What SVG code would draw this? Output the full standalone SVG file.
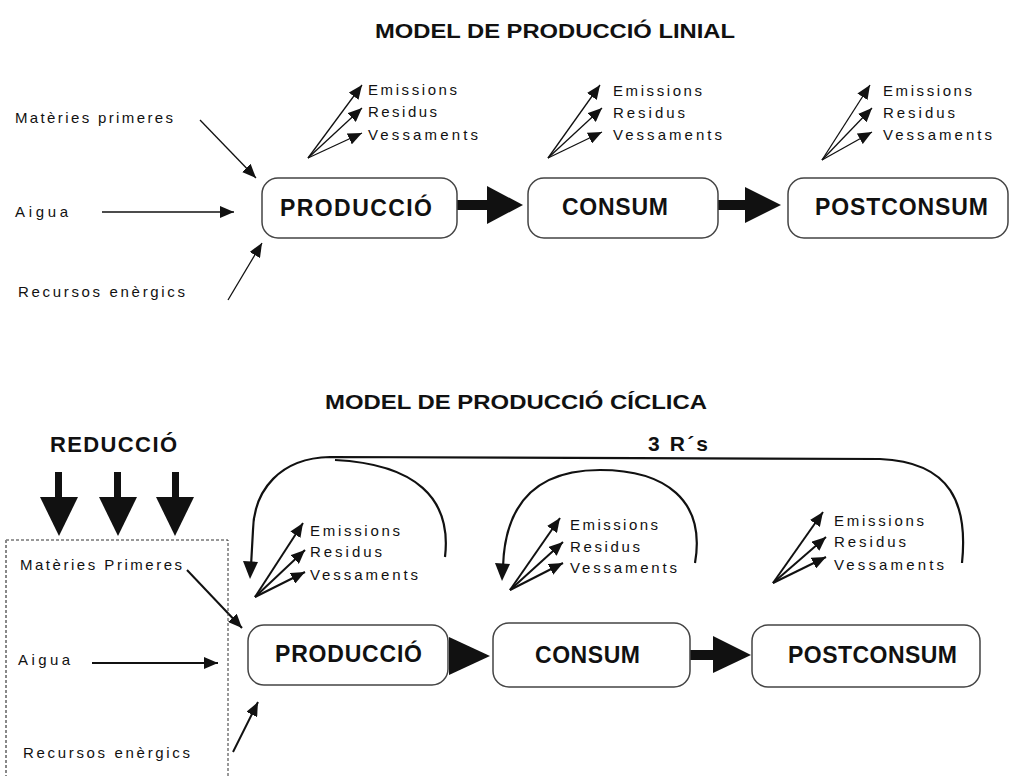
<svg xmlns="http://www.w3.org/2000/svg" width="1010" height="776" viewBox="0 0 1010 776">
<defs>
<style>
.t{font-family:"Liberation Sans",Arial,sans-serif;font-size:15px;fill:#111}
.b{font-family:"Liberation Sans",Arial,sans-serif;font-weight:bold;fill:#111}
.box{fill:#fff;stroke:#444;stroke-width:1.5}
.ln{fill:none;stroke:#111;stroke-width:1.3}
.ln2{fill:none;stroke:#111;stroke-width:2}
.cv{fill:none;stroke:#111;stroke-width:2.2}
.big{fill:#111;stroke:none}
</style>
<marker id="ah" markerUnits="userSpaceOnUse" viewBox="0 0 14 12" refX="14" refY="6" markerWidth="14" markerHeight="12" orient="auto">
<path d="M0,0 L14,6 L0,12 Z" fill="#111"/>
</marker>
<marker id="ah2" markerUnits="userSpaceOnUse" viewBox="0 0 14 12" refX="14" refY="6" markerWidth="14" markerHeight="12" orient="auto">
<path d="M0,0 L14,6 L0,12 Z" fill="#111"/>
</marker>
</defs>
<rect width="1010" height="776" fill="#fff"/>

<text class="b" x="375" y="38" font-size="21" textLength="360" lengthAdjust="spacingAndGlyphs">MODEL DE PRODUCCIÓ LINIAL</text>
<text class="b" x="325" y="409" font-size="21" textLength="382" lengthAdjust="spacingAndGlyphs">MODEL DE PRODUCCIÓ CÍCLICA</text>

<g id="connectors">
<!-- top inputs -->
<line class="ln" x1="200" y1="120" x2="256" y2="178" marker-end="url(#ah)"/>
<line class="ln" x1="102" y1="212" x2="234" y2="212" marker-end="url(#ah)"/>
<line class="ln" x1="228" y1="300" x2="262" y2="243" marker-end="url(#ah)"/>
<!-- top emissions -->
<line class="ln" x1="308" y1="158" x2="362" y2="85" marker-end="url(#ah)"/>
<line class="ln" x1="308" y1="158" x2="362" y2="108" marker-end="url(#ah)"/>
<line class="ln" x1="308" y1="158" x2="362" y2="133" marker-end="url(#ah)"/>
<line class="ln" x1="548" y1="158" x2="600" y2="85" marker-end="url(#ah)"/>
<line class="ln" x1="548" y1="158" x2="602" y2="108" marker-end="url(#ah)"/>
<line class="ln" x1="548" y1="158" x2="602" y2="132" marker-end="url(#ah)"/>
<line class="ln" x1="822" y1="160" x2="870" y2="85" marker-end="url(#ah)"/>
<line class="ln" x1="822" y1="160" x2="872" y2="108" marker-end="url(#ah)"/>
<line class="ln" x1="822" y1="160" x2="872" y2="132" marker-end="url(#ah)"/>
<!-- top flow arrows -->
<rect class="big" x="457" y="200" width="32" height="10"/>
<polygon class="big" points="487,186 523,205 487,224"/>
<rect class="big" x="718" y="200" width="29" height="10"/>
<polygon class="big" points="745,187 781,205 745,223"/>

<!-- reduction arrows -->
<rect class="big" x="55" y="472" width="7" height="27"/>
<polygon class="big" points="40,497 78,497 59,536"/>
<rect class="big" x="114" y="472" width="7" height="27"/>
<polygon class="big" points="99,497 137,497 118,536"/>
<rect class="big" x="172" y="472" width="7" height="27"/>
<polygon class="big" points="156,497 194,497 175,536"/>

<!-- bottom inputs -->
<line class="ln2" x1="187" y1="570" x2="242" y2="628" marker-end="url(#ah2)"/>
<line class="ln2" x1="92" y1="663" x2="218" y2="663" marker-end="url(#ah2)"/>
<line class="ln2" x1="233" y1="752" x2="258" y2="702" marker-end="url(#ah2)"/>
<!-- bottom emissions -->
<line class="ln2" x1="255" y1="597" x2="303" y2="523" marker-end="url(#ah2)"/>
<line class="ln2" x1="255" y1="597" x2="305" y2="550" marker-end="url(#ah2)"/>
<line class="ln2" x1="255" y1="597" x2="305" y2="572" marker-end="url(#ah2)"/>
<line class="ln2" x1="510" y1="590" x2="560" y2="518" marker-end="url(#ah2)"/>
<line class="ln2" x1="510" y1="590" x2="563" y2="542" marker-end="url(#ah2)"/>
<line class="ln2" x1="510" y1="590" x2="563" y2="563" marker-end="url(#ah2)"/>
<line class="ln2" x1="773" y1="583" x2="823" y2="512" marker-end="url(#ah2)"/>
<line class="ln2" x1="773" y1="583" x2="826" y2="537" marker-end="url(#ah2)"/>
<line class="ln2" x1="773" y1="583" x2="826" y2="557" marker-end="url(#ah2)"/>
<!-- bottom flow arrows -->
<polygon class="big" points="449,637 490,656 449,675"/>
<rect class="big" x="690" y="650" width="25" height="10"/>
<polygon class="big" points="713,636 751,655 713,673"/>

<!-- cycle curves -->
<path class="cv" d="M962,563 C968,505 952,462 880,459 L330,457 C280,458 254,490 253,530 L251,566"/>
<polygon class="big" points="243,561 258,562 250,579"/>
<path class="cv" d="M445,557 C452,498 415,464 335,460"/>
<path class="cv" d="M695,563 C706,500 665,470 600,470 C540,470 505,500 503,567"/>
<polygon class="big" points="495,563 510,564 502,581"/>
</g>

<g id="dotted-box">
<path d="M6,540 L228,540 L228,776" fill="none" stroke="#333" stroke-width="1" stroke-dasharray="3,2"/>
<path d="M6,540 L6,776" fill="none" stroke="#888" stroke-width="2" stroke-dasharray="3,2"/>
</g>

<g id="reduccio"><text class="b" x="50" y="452" font-size="22" textLength="127">REDUCCIÓ</text></g>
<g id="rs"><text class="b" x="648" y="451" font-size="21" textLength="60">3 R´s</text></g>

<g id="top-inputs">
<text class="t" x="15" y="123" textLength="158">Matèries primeres</text>
<text class="t" x="15" y="217" textLength="53">Aigua</text>
<text class="t" x="18" y="297" textLength="167">Recursos enèrgics</text>
</g>

<g id="top-produccio"><rect class="box" x="262" y="178" width="195" height="60" rx="16"/><text class="b" x="280" y="216" font-size="23" textLength="152">PRODUCCIÓ</text></g>
<g id="top-consum"><rect class="box" x="528" y="178" width="190" height="60" rx="16"/><text class="b" x="562" y="215" font-size="23" textLength="106">CONSUM</text></g>
<g id="top-postconsum"><rect class="box" x="788" y="178" width="220" height="60" rx="16"/><text class="b" x="815" y="215" font-size="23" textLength="173">POSTCONSUM</text></g>

<g id="top-out-1">
<text class="t" x="368" y="95" textLength="89">Emissions</text>
<text class="t" x="368" y="117" textLength="69">Residus</text>
<text class="t" x="368" y="140" textLength="110">Vessaments</text>
</g>
<g id="top-out-2">
<text class="t" x="613" y="96" textLength="89">Emissions</text>
<text class="t" x="613" y="118" textLength="72">Residus</text>
<text class="t" x="613" y="140" textLength="109">Vessaments</text>
</g>
<g id="top-out-3">
<text class="t" x="883" y="96" textLength="89">Emissions</text>
<text class="t" x="883" y="118" textLength="72">Residus</text>
<text class="t" x="883" y="140" textLength="109">Vessaments</text>
</g>

<g id="bottom-inputs">
<text class="t" x="20" y="570" textLength="162">Matèries Primeres</text>
<text class="t" x="18" y="665" textLength="52">Aigua</text>
<text class="t" x="23" y="758" textLength="167">Recursos enèrgics</text>
</g>

<g id="bottom-produccio"><rect class="box" x="248" y="625" width="200" height="60" rx="16"/><text class="b" x="275" y="662" font-size="23" textLength="147">PRODUCCIÓ</text></g>
<g id="bottom-consum"><rect class="box" x="493" y="623" width="197" height="64" rx="16"/><text class="b" x="535" y="663" font-size="23" textLength="105">CONSUM</text></g>
<g id="bottom-postconsum"><rect class="box" x="752" y="625" width="228" height="62" rx="16"/><text class="b" x="788" y="663" font-size="23" textLength="169">POSTCONSUM</text></g>

<g id="bottom-out-1">
<text class="t" x="310" y="536" textLength="90">Emissions</text>
<text class="t" x="310" y="557" textLength="72">Residus</text>
<text class="t" x="310" y="580" textLength="108">Vessaments</text>
</g>
<g id="bottom-out-2">
<text class="t" x="570" y="530" textLength="88">Emissions</text>
<text class="t" x="570" y="552" textLength="70">Residus</text>
<text class="t" x="570" y="573" textLength="107">Vessaments</text>
</g>
<g id="bottom-out-3">
<text class="t" x="834" y="526" textLength="90">Emissions</text>
<text class="t" x="834" y="547" textLength="72">Residus</text>
<text class="t" x="834" y="570" textLength="110">Vessaments</text>
</g>
</svg>
